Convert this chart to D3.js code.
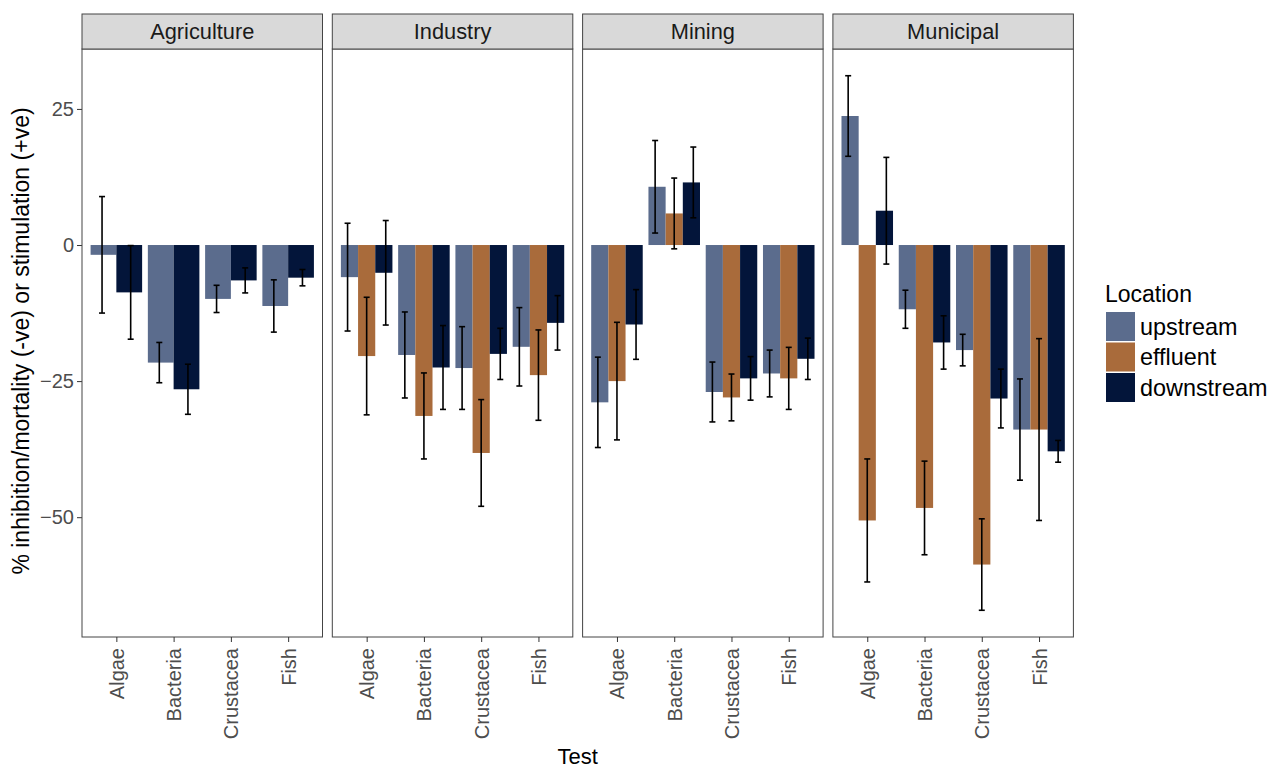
<!DOCTYPE html>
<html>
<head>
<meta charset="utf-8">
<script src="https://cdn.jsdelivr.net/npm/d3@7"></script>
<style>
  body { margin: 0; background: #fff; }
  svg { font-family: "Liberation Sans", Arial, sans-serif; }
</style>
</head>
<body>
<svg id="chart" width="1269" height="769"></svg>
<script>
// facets, tests, locations
const facets = ["Agriculture", "Industry", "Mining", "Municipal"];
const tests = ["Algae", "Bacteria", "Crustacea", "Fish"];
const locations = ["upstream", "effluent", "downstream"];
const yTicks = [25, 0, -25, -50];

// values ordered facet by facet, 4 tests each
const upstreamMean = [-1.8, -21.6, -9.9, -11.2, -5.9, -20.2, -22.6, -18.7, -28.9, 10.7, -27.0, -23.6, 23.7, -11.8, -19.3, -33.9];
const upstreamSE = [10.7, 3.7, 2.5, 4.8, 9.9, 7.9, 7.6, 7.2, 8.3, 8.5, 5.5, 4.3, 7.4, 3.5, 2.9, 9.3];
const effluentMean = [null, null, null, null, -20.4, -31.4, -38.2, -23.9, -25.0, 5.8, -28.0, -24.5, -50.6, -48.3, -58.7, -33.9];
const effluentSE = [null, null, null, null, 10.8, 7.9, 9.8, 8.3, 10.8, 6.5, 4.3, 5.7, 11.3, 8.6, 8.4, 16.7];
const downstreamMean = [-8.7, -26.5, -6.5, -6.0, -5.1, -22.5, -20.0, -14.3, -14.6, 11.5, -24.5, -20.9, 6.3, -17.9, -28.2, -37.9];
const downstreamSE = [8.6, 4.6, 2.3, 1.5, 9.6, 7.7, 4.7, 5.0, 6.4, 6.5, 4.0, 3.8, 9.8, 4.9, 5.4, 2.0];

const colors = {upstream: "#5b6c8d", effluent: "#a96b3b", downstream: "#03153a"};

var means = {upstream: upstreamMean, effluent: effluentMean, downstream: downstreamMean};
var ses = {upstream: upstreamSE, effluent: effluentSE, downstream: downstreamSE};

// build rows
var rows = [];
facets.forEach(function (f, fi) {
    tests.forEach(function (t, ti) {
        locations.forEach(function (loc) {
            var m = means[loc][fi * 4 + ti];
            if (m === null) return;
            rows.push({facet: f, test: t, loc: loc, mean: m, se: ses[loc][fi * 4 + ti]});
        });
    });
});

var svg = d3.select("#chart");

var panelTop = 49, panelBottom = 637;
var panelLeft = 82, panelW = 240.5, panelGap = 9.8;
var stripH = 35;

// y scale with ggplot-like 5% expansion
var lo = d3.min(rows, d => Math.min(0, d.mean - d.se));
var hi = d3.max(rows, d => Math.max(0, d.mean + d.se));
var pad = (hi - lo) * 0.05;
var yScale = d3.scaleLinear().domain([lo - pad, hi + pad]).range([panelBottom, panelTop]);

// y axis
var yAxis = svg.append("g")
    .attr("transform", "translate(" + panelLeft + ",0)")
    .call(d3.axisLeft(yScale).tickValues(yTicks).tickSize(5).tickPadding(3));
yAxis.select(".domain").remove();
yAxis.selectAll("line").attr("stroke", "#333");
yAxis.selectAll("text").attr("fill", "#4d4d4d").style("font-size", "20px")
    .attr("font-family", null);

facets.forEach(function (f, fi) {
    var x0 = panelLeft + fi * (panelW + panelGap);
    var g = svg.append("g").attr("transform", "translate(" + x0 + ",0)");

    var xScale = d3.scalePoint().domain(tests).range([0, panelW]).padding(0.6);
    var step = xScale.step();

    var data = rows.filter(d => d.facet === f);

    // bars, dodged by 0.9 of step; error bars dodged by 1 step
    data.forEach(function (d) {
        var group = data.filter(e => e.test === d.test);
        var n = group.length;
        var i = group.indexOf(d);
        var bw = 0.9 * step / n;
        d.barX = xScale(d.test) + 0.9 * step * ((i + 0.5) / n - 0.5) - bw / 2;
        d.barW = bw;
        d.errX = xScale(d.test) + 1.0 * step * ((i + 0.5) / n - 0.5);
    });

    g.selectAll("rect.bar")
        .data(data)
        .enter()
        .append("rect")
        .attr("class", "bar")
        .attr("x", d => d.barX)
        .attr("width", d => d.barW)
        .attr("y", d => yScale(Math.max(0, d.mean)))
        .attr("height", d => Math.abs(yScale(d.mean) - yScale(0)))
        .attr("fill", d => colors[d.loc]);

    // error bars
    var eb = g.selectAll("g.err")
        .data(data)
        .enter()
        .append("g")
        .attr("class", "err")
        .attr("stroke", "#000")
        .attr("stroke-width", 1.6);
    eb.append("line")
        .attr("x1", d => d.errX).attr("x2", d => d.errX)
        .attr("y1", d => yScale(d.mean + d.se)).attr("y2", d => yScale(d.mean - d.se));
    eb.append("line")
        .attr("x1", d => d.errX - 3).attr("x2", d => d.errX + 3)
        .attr("y1", d => yScale(d.mean + d.se)).attr("y2", d => yScale(d.mean + d.se));
    eb.append("line")
        .attr("x1", d => d.errX - 3).attr("x2", d => d.errX + 3)
        .attr("y1", d => yScale(d.mean - d.se)).attr("y2", d => yScale(d.mean - d.se));

    // panel border
    g.append("rect")
        .attr("x", 0).attr("y", panelTop)
        .attr("width", panelW).attr("height", panelBottom - panelTop)
        .attr("fill", "none").attr("stroke", "#444").attr("stroke-width", 1);

    // strip
    g.append("rect")
        .attr("x", 0).attr("y", panelTop - stripH)
        .attr("width", panelW).attr("height", stripH)
        .attr("fill", "#d9d9d9").attr("stroke", "#444").attr("stroke-width", 1);
    g.append("text")
        .attr("x", panelW / 2).attr("y", panelTop - stripH / 2)
        .attr("dy", "0.35em")
        .attr("text-anchor", "middle")
        .attr("fill", "#1a1a1a")
        .style("font-size", "21.8px")
        .text(f);

    // x axis
    var xAxis = g.append("g")
        .attr("transform", "translate(0," + panelBottom + ")")
        .call(d3.axisBottom(xScale).tickSize(5).tickSizeOuter(0));
    xAxis.select(".domain").remove();
    xAxis.selectAll("line").attr("stroke", "#333");
    xAxis.selectAll("text")
        .attr("fill", "#4d4d4d")
        .attr("font-family", null)
        .style("font-size", "20px")
        .attr("text-anchor", "end")
        .attr("transform", "rotate(-90)")
        .attr("x", -11).attr("y", 0).attr("dy", "0.35em");
});

// axis titles
svg.append("text")
    .attr("x", (panelLeft + panelLeft + 4 * panelW + 3 * panelGap) / 2)
    .attr("y", 764)
    .attr("text-anchor", "middle")
    .style("font-size", "22px")
    .text("Test");

svg.append("text")
    .attr("transform", "translate(29," + ((panelTop + panelBottom) / 2 - 2) + ") rotate(-90)")
    .attr("text-anchor", "middle")
    .style("font-size", "23px")
    .text("% inhibition/mortality (-ve) or stimulation (+ve)");

// legend
var legend = svg.append("g").attr("transform", "translate(1106,0)");
legend.append("text")
    .attr("x", -1).attr("y", 302)
    .style("font-size", "23px")
    .text("Location");
var items = legend.selectAll("g.item")
    .data(locations)
    .enter()
    .append("g")
    .attr("class", "item")
    .attr("transform", (d, i) => "translate(0," + (312 + i * 30.5) + ")");
items.append("rect")
    .attr("width", 29).attr("height", 29)
    .attr("fill", d => colors[d]);
items.append("text")
    .attr("x", 34).attr("y", 14.5).attr("dy", "0.35em")
    .style("font-size", "23.4px")
    .text(d => d);
</script>
</body>
</html>
